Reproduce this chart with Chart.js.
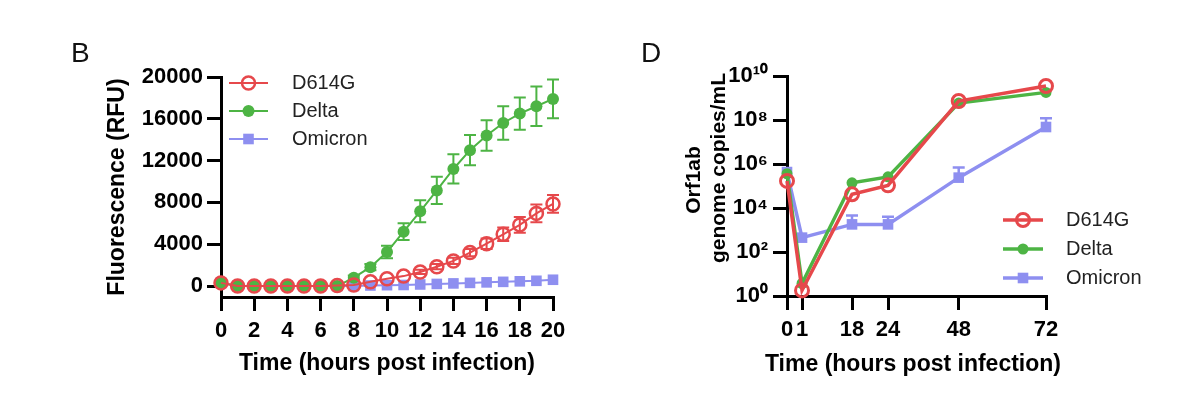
<!DOCTYPE html>
<html>
<head>
<meta charset="utf-8">
<script src="https://cdn.jsdelivr.net/npm/chart.js@4.4.1/dist/chart.umd.min.js"></script>
<style>
  html, body { margin: 0; padding: 0; background: #fff; }
  body { width: 1200px; height: 417px; position: relative; overflow: hidden; font-family: 'Liberation Sans', Arial, sans-serif; }
  .panel { position: absolute; top: 0; width: 600px; height: 417px; }
  .tag { position: absolute; font-size: 28px; line-height: 28px; color: #111; }
  .axis-title { position: absolute; font-weight: bold; color: #000; white-space: nowrap; transform: translate(-50%, -50%); }
  .axis-title.rot { transform: translate(-50%, -50%) rotate(-90deg); }
</style>
</head>
<body>
<div class="panel" style="left:0"><canvas id="chartB"></canvas></div>
<div class="panel" style="left:600px"><canvas id="chartD"></canvas></div>
<div class="tag" style="left:71px; top:39px">B</div>
<div class="tag" style="left:641px; top:39px">D</div>
<div class="axis-title" style="left:913px; top:363px; font-size:23px">Time (hours post infection)</div>
<div class="axis-title rot" style="left:693px; top:180px; font-size:21px">Orf1ab</div>
<div class="axis-title rot" style="left:718px; top:168px; font-size:21px">genome copies/mL</div>
<script>
// Panel B — fluorescence over 20 h
const hoursB = [0, 1, 2, 3, 4, 5, 6, 7, 8, 9, 10, 11, 12, 13, 14, 15, 16, 17, 18, 19, 20];
const d614gB = [300, 0, 0, 0, 0, 0, 0, 50, 100, 400, 700, 950, 1350, 1850, 2400, 3200, 4050, 4950, 5850, 6950, 7850];
const d614gErrB = [0, 0, 0, 0, 0, 0, 0, 0, 0, 0, 0, 0, 200, 250, 300, 350, 500, 650, 750, 850, 850];
const deltaB = [300, 0, 0, 0, 0, 0, 0, 0, 800, 1800, 3250, 5200, 7150, 9150, 11200, 13000, 14400, 15600, 16500, 17200, 17900];
const deltaErrB = [0, 0, 0, 0, 0, 0, 0, 0, 200, 300, 600, 800, 1050, 1300, 1400, 1450, 1450, 1600, 1550, 1900, 1850];
const omicronB = [300, 0, 0, 0, 0, 0, 0, 0, 0, 50, 80, 100, 150, 200, 250, 300, 350, 400, 450, 500, 600];
const xTicksB = [0, 2, 4, 6, 8, 10, 12, 14, 16, 18, 20];
const yTicksB = [0, 4000, 8000, 12000, 16000, 20000];

// Panel D — Orf1ab genome copies/mL over 72 h
const hoursD = [0, 1, 18, 24, 48, 72];
const d614gD = [1.7e5, 1.8, 4.2e4, 1.07e5, 7.3e8, 3.5e9];
const deltaD = [3.6e5, 3.7, 1.4e5, 2.6e5, 5.9e8, 1.8e9];
const omicronD = [4.3e5, 450, 1800, 1800, 2.4e5, 4.8e7];
const omicronErrD = [0, 0, 2800, 2200, 4.5e5, 7.2e7];
const xTicksD = [0, 1, 18, 24, 48, 72];
const yTicksD = [1, 1e2, 1e4, 1e6, 1e8, 1e10];
const yTickLabelsD = ['10\u2070', '10\u00b2', '10\u2074', '10\u2076', '10\u2078', '10\u00b9\u2070'];

const RED = '#e6484b';
const GREEN = '#4db444';
const BLUE = '#8e8ff0';

Chart.defaults.font.family = "'Liberation Sans', Arial, sans-serif";
Chart.defaults.color = '#000';

// x axis of panel D is not linear in the original (0 and 1 are spread apart)
const brokenVals = [0, 1, 18, 24, 48, 72];
const brokenFracs = [0, 0.058, 0.251, 0.39, 0.663, 1];
function valToFrac(v) {
  for (let i = 1; i < brokenVals.length; i++) {
    if (v <= brokenVals[i] || i === brokenVals.length - 1) {
      const t = (v - brokenVals[i - 1]) / (brokenVals[i] - brokenVals[i - 1]);
      return brokenFracs[i - 1] + t * (brokenFracs[i] - brokenFracs[i - 1]);
    }
  }
  return 0;
}
function fracToVal(f) {
  for (let i = 1; i < brokenFracs.length; i++) {
    if (f <= brokenFracs[i] || i === brokenFracs.length - 1) {
      const t = (f - brokenFracs[i - 1]) / (brokenFracs[i] - brokenFracs[i - 1]);
      return brokenVals[i - 1] + t * (brokenVals[i] - brokenVals[i - 1]);
    }
  }
  return 0;
}
class BrokenTimeScale extends Chart.LinearScale {
  getPixelForValue(value) {
    return value === null ? NaN : this.getPixelForDecimal(valToFrac(value));
  }
  getValueForPixel(pixel) {
    return fracToVal(this.getDecimalForPixel(pixel));
  }
}
BrokenTimeScale.id = 'brokenTime';
BrokenTimeScale.defaults = Chart.LinearScale.defaults;
Chart.register(BrokenTimeScale);

const errorBars = {
  id: 'errorBars',
  beforeDatasetsDraw(chart) {
    const { ctx, scales: { x, y } } = chart;
    chart.data.datasets.forEach((ds, i) => {
      if (!ds.yErr) return;
      ctx.save();
      ctx.strokeStyle = ds.borderColor;
      ctx.lineWidth = ds.errWidth || 2;
      const cap = ds.capHalf || 6;
      ds.data.forEach((p, j) => {
        const e = ds.yErr[j];
        if (!e) return;
        const px = x.getPixelForValue(p.x);
        const top = y.getPixelForValue(p.y + e);
        const hasLow = y.type !== 'logarithmic' || p.y - e > 0;
        const bot = hasLow ? y.getPixelForValue(p.y - e) : y.getPixelForValue(p.y);
        ctx.beginPath();
        ctx.moveTo(px, top); ctx.lineTo(px, bot);
        ctx.moveTo(px - cap, top); ctx.lineTo(px + cap, top);
        if (hasLow) { ctx.moveTo(px - cap, bot); ctx.lineTo(px + cap, bot); }
        ctx.stroke();
      });
      ctx.restore();
    });
  }
};

const insideLegend = {
  id: 'insideLegend',
  afterDraw(chart, args, opts) {
    const ctx = chart.ctx;
    chart.data.datasets.forEach((ds, i) => {
      const y = opts.top + i * opts.rowHeight;
      const mid = opts.left + opts.lineLength / 2;
      ctx.save();
      ctx.strokeStyle = ds.borderColor;
      ctx.lineWidth = ds.borderWidth;
      ctx.beginPath();
      ctx.moveTo(opts.left, y);
      ctx.lineTo(opts.left + opts.lineLength, y);
      ctx.stroke();
      ctx.fillStyle = ds.pointBackgroundColor;
      ctx.strokeStyle = ds.borderColor;
      ctx.lineWidth = ds.pointBorderWidth;
      Chart.helpers.drawPoint(ctx, {
        pointStyle: ds.pointStyle, radius: ds.pointRadius, borderWidth: ds.pointBorderWidth, rotation: 0
      }, mid, y);
      ctx.fillStyle = '#222';
      ctx.font = opts.font;
      ctx.textBaseline = 'middle';
      ctx.textAlign = 'left';
      ctx.fillText(ds.label, opts.textX, y);
      ctx.restore();
    });
  }
};

function pts(xs, ys) {
  return xs.map((x, i) => ({ x, y: ys[i] }));
}

const tickFont = { size: 22, weight: 'bold' };
const titleFont = { size: 23, weight: 'bold' };
const axisBorder = { display: true, color: '#000', width: 3 };
const axisGrid = { drawOnChartArea: false, color: '#000', lineWidth: 3, tickLength: 14 };

new Chart(document.getElementById('chartB'), {
  type: 'line',
  data: {
    datasets: [{
      label: 'D614G',
      data: pts(hoursB, d614gB),
      yErr: d614gErrB,
      borderColor: RED,
      borderWidth: 2,
      pointStyle: 'circle',
      pointRadius: 6.5,
      pointBorderWidth: 2.5,
      pointBackgroundColor: 'rgba(0,0,0,0)',
      pointBorderColor: RED,
      clip: false,
    }, {
      label: 'Delta',
      data: pts(hoursB, deltaB),
      yErr: deltaErrB,
      borderColor: GREEN,
      borderWidth: 2,
      pointStyle: 'circle',
      pointRadius: 6,
      pointBorderWidth: 0,
      pointBackgroundColor: GREEN,
      clip: false,
    }, {
      label: 'Omicron',
      data: pts(hoursB, omicronB),
      borderColor: BLUE,
      borderWidth: 2,
      pointStyle: 'rect',
      pointRadius: 7.5,
      pointBorderWidth: 0,
      pointBackgroundColor: BLUE,
      clip: false,
    }],
  },
  options: {
    responsive: true,
    maintainAspectRatio: false,
    animation: false,
    layout: { padding: { top: 77, right: 47, bottom: 0, left: 0 } },
    scales: {
      x: {
        type: 'linear', min: 0, max: 20,
        afterBuildTicks: s => { s.ticks = xTicksB.map(v => ({ value: v })); },
        afterFit: s => { s.height = 120; },
        border: axisBorder,
        grid: axisGrid,
        ticks: { font: tickFont, color: '#000', padding: 7, maxRotation: 0, autoSkip: false },
        title: { display: true, text: 'Time (hours post infection)', color: '#000', font: titleFont, padding: { top: 0, bottom: 40 } },
      },
      y: {
        type: 'linear', min: -1050, max: 20000,
        afterBuildTicks: s => { s.ticks = yTicksB.map(v => ({ value: v })); },
        afterFit: s => { s.width = 221; },
        border: axisBorder,
        grid: axisGrid,
        ticks: { font: tickFont, color: '#000', padding: 4, callback: v => String(v) },
        title: { display: true, text: 'Fluorescence (RFU)', color: '#000', font: titleFont, padding: { top: 104, bottom: 0 } },
      },
    },
    plugins: {
      legend: { display: false },
      tooltip: { enabled: false },
      insideLegend: { left: 229, lineLength: 39, textX: 292, top: 83, rowHeight: 28, font: '20px "Liberation Sans", Arial, sans-serif' },
    },
  },
  plugins: [errorBars, insideLegend],
});

new Chart(document.getElementById('chartD'), {
  type: 'line',
  data: {
    datasets: [{
      label: 'D614G',
      data: pts(hoursD, d614gD),
      borderColor: RED,
      borderWidth: 3.5,
      pointStyle: 'circle',
      pointRadius: 6.5,
      pointBorderWidth: 3,
      pointBackgroundColor: 'rgba(0,0,0,0)',
      pointBorderColor: RED,
      clip: false,
    }, {
      label: 'Delta',
      data: pts(hoursD, deltaD),
      borderColor: GREEN,
      borderWidth: 3.5,
      pointStyle: 'circle',
      pointRadius: 5.5,
      pointBorderWidth: 0,
      pointBackgroundColor: GREEN,
      clip: false,
    }, {
      label: 'Omicron',
      data: pts(hoursD, omicronD),
      yErr: omicronErrD,
      errWidth: 2.5,
      borderColor: BLUE,
      borderWidth: 3.5,
      pointStyle: 'rect',
      pointRadius: 7.5,
      pointBorderWidth: 0,
      pointBackgroundColor: BLUE,
      clip: false,
    }],
  },
  options: {
    responsive: true,
    maintainAspectRatio: false,
    animation: false,
    layout: { padding: { top: 76, right: 154, bottom: 0, left: 0 } },
    scales: {
      x: {
        type: 'brokenTime', min: 0, max: 72,
        afterBuildTicks: s => { s.ticks = xTicksD.map(v => ({ value: v })); },
        afterFit: s => { s.height = 121; },
        border: axisBorder,
        grid: axisGrid,
        ticks: { font: tickFont, color: '#000', padding: 7, maxRotation: 0, autoSkip: false },
        title: { display: false },
      },
      y: {
        type: 'logarithmic', min: 1, max: 1e10,
        afterBuildTicks: s => { s.ticks = yTicksD.map(v => ({ value: v })); },
        afterFit: s => { s.width = 187; },
        border: axisBorder,
        grid: axisGrid,
        ticks: { font: tickFont, color: '#000', padding: 5, callback: (v, i) => yTickLabelsD[i] },
        title: { display: false },
      },
    },
    plugins: {
      legend: { display: false },
      tooltip: { enabled: false },
      insideLegend: { left: 403, lineLength: 40, textX: 466, top: 220, rowHeight: 29, font: '20px "Liberation Sans", Arial, sans-serif' },
    },
  },
  plugins: [errorBars, insideLegend],
});
</script>
</body>
</html>
